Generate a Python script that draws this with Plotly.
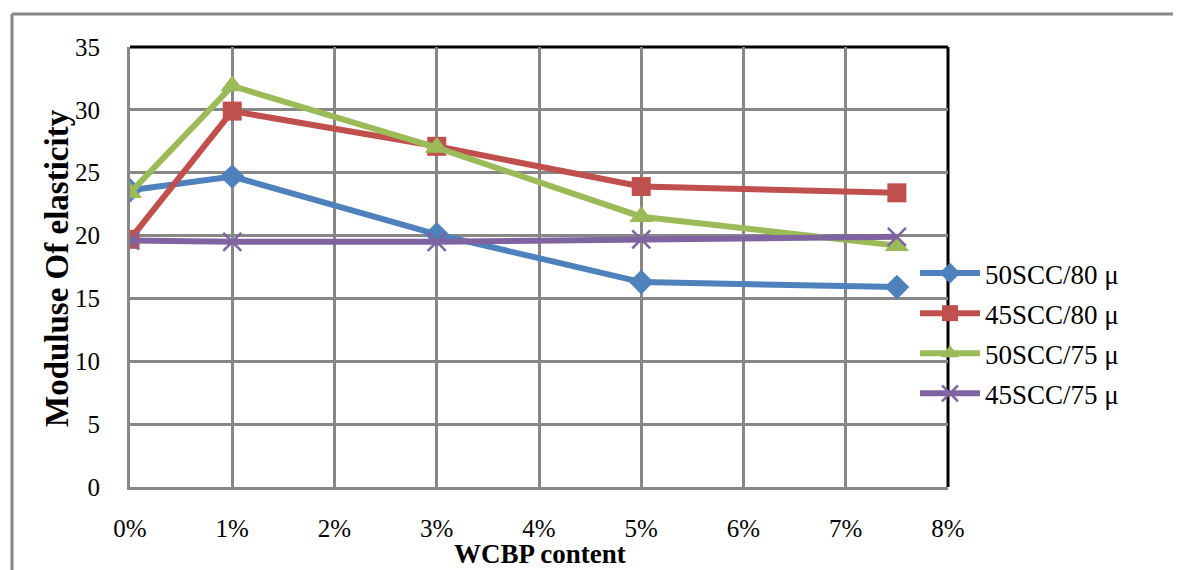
import plotly.graph_objects as go

# ---- data ----
wcbp = [0, 1, 3, 5, 7.5]
s50_80 = [23.6, 24.7, 20.1, 16.3, 15.9]
s45_80 = [19.7, 29.9, 27.1, 23.9, 23.4]
s50_75 = [23.4, 31.9, 27.0, 21.5, 19.2]
s45_75 = [19.6, 19.5, 19.5, 19.7, 19.9]
series_names = ["50SCC/80 \u03bc", "45SCC/80 \u03bc", "50SCC/75 \u03bc", "45SCC/75 \u03bc"]
x_tickvals = [0, 1, 2, 3, 4, 5, 6, 7, 8]
x_ticktext = ["0%", "1%", "2%", "3%", "4%", "5%", "6%", "7%", "8%"]
y_tickvals = [0, 5, 10, 15, 20, 25, 30, 35]

FONT = "Liberation Serif"
OFF = 8  # page body margin
W, H = 1181 - OFF, 570 - OFF
# plot area in page pixels: x 130..948, y 47..487
L, T = 130 - OFF, 47 - OFF
R = W - (948 - OFF)
B = H - (487 - OFF)
pw, ph = W - L - R, H - T - B

def px(x):
    """page pixel x -> paper"""
    return (x - OFF - L) / pw

def py(y):
    """page pixel y -> paper"""
    return (H - B - (y - OFF)) / ph

styles = [
    dict(color="#4F81BD", symbol="diamond", size=19, lw=0),
    dict(color="#C0504D", symbol="square", size=19, lw=0),
    dict(color="#9BBB59", symbol="triangle-up", size=21, lw=0),
    dict(color="#8064A2", symbol="x-thin", size=18, lw=2.5),
]

fig = go.Figure()
for i, (name, vals) in enumerate(zip(series_names, [s50_80, s45_80, s50_75, s45_75])):
    st = styles[i]
    marker = dict(symbol=st["symbol"], size=st["size"], color=st["color"])
    if st["lw"]:
        marker["line"] = dict(color=st["color"], width=st["lw"])
    fig.add_trace(go.Scatter(
        x=wcbp, y=vals, name=name, mode="lines+markers",
        line=dict(color=st["color"], width=6),
        marker=marker, legendgroup=name,
    ))

fig.update_layout(
    width=W, height=H,
    margin=dict(l=L, r=R, t=T, b=B, autoexpand=False),
    paper_bgcolor="white", plot_bgcolor="white",
    font=dict(family=FONT, color="black", size=25),
    showlegend=True,
    legend=dict(
        x=px(915), y=py(249), xanchor="left", yanchor="top",
        bgcolor="rgba(0,0,0,0)", font=dict(family=FONT, size=27),
        itemwidth=60, tracegroupgap=2,
    ),
    xaxis=dict(
        range=[0, 8], tickvals=x_tickvals, ticktext=x_ticktext,
        showgrid=True, gridcolor="#878787", gridwidth=3,
        showline=True, linecolor="#878787", linewidth=3,
        zeroline=False, ticks="", ticklabelstandoff=17,
        tickfont=dict(family=FONT, size=25),
    ),
    yaxis=dict(
        range=[0, 35], tickvals=y_tickvals,
        showgrid=True, gridcolor="#878787", gridwidth=3,
        showline=True, linecolor="#878787", linewidth=3,
        zeroline=False, ticks="", ticklabelstandoff=22,
        tickfont=dict(family=FONT, size=25),
    ),
    shapes=[
        # outer frame (left and top visible)
        dict(type="line", xref="paper", yref="paper", x0=px(12), x1=px(12), y0=py(580), y1=py(14),
             line=dict(color="#888888", width=3)),
        dict(type="line", xref="paper", yref="paper", x0=px(12), x1=px(1195), y0=py(14), y1=py(14),
             line=dict(color="#888888", width=3)),
        # black top and right border of plot area
        dict(type="line", xref="paper", yref="paper", x0=0, x1=1, y0=1, y1=1,
             line=dict(color="black", width=3), layer="between"),
        dict(type="line", xref="paper", yref="paper", x0=1, x1=1, y0=0, y1=1,
             line=dict(color="black", width=3), layer="between"),
    ],
    annotations=[
        dict(text="<b>WCBP content</b>", xref="paper", yref="paper", x=px(540), y=py(554),
             xanchor="center", yanchor="middle", showarrow=False,
             font=dict(family=FONT, size=27, color="black")),
        dict(text="<b>Moduluse Of elasticity</b>", xref="paper", yref="paper", x=px(57), y=py(268),
             xanchor="center", yanchor="middle", showarrow=False, textangle=-90,
             font=dict(family=FONT, size=33, color="black")),
    ],
)

fig.write_html("out.html")
